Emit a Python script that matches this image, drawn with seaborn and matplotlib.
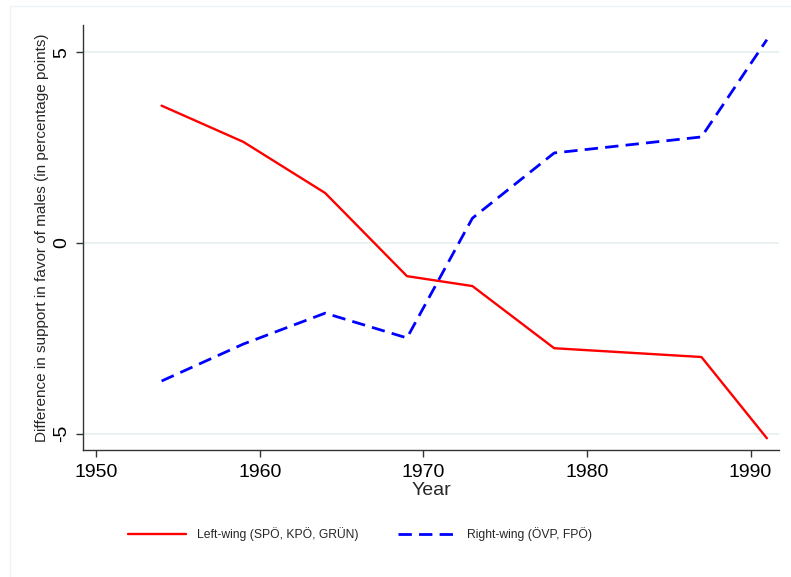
import numpy as np
import pandas as pd
import matplotlib
matplotlib.use('Agg')
import matplotlib.pyplot as plt
import seaborn as sns

# values
years = [1954, 1959, 1964, 1969, 1973, 1978, 1987, 1991]
left_wing = [3.60, 2.65, 1.31, -0.87, -1.13, -2.76, -2.99, -5.12]
right_wing = [-3.62, -2.65, -1.84, -2.49, 0.65, 2.36, 2.78, 5.33]
series_names = ['Left-wing (SPÖ, KPÖ, GRÜN)', 'Right-wing (ÖVP, FPÖ)']
x_ticks = [1950, 1960, 1970, 1980, 1990]
y_ticks = [-5, 0, 5]

df = pd.DataFrame({
    'Year': years * 2,
    'diff': left_wing + right_wing,
    'party': [series_names[0]] * len(years) + [series_names[1]] * len(years),
})

sns.set_style('white')
plt.rcParams['font.family'] = ['Liberation Sans', 'DejaVu Sans']

fig = plt.figure(figsize=(7.91, 5.77), dpi=100)
ax = fig.add_axes([0.105, 0.22, 0.88, 0.737])

# faint outer frame like the Stata graph region
fig.patches.append(plt.Rectangle((0.013, -0.01), 0.99, 1.0, transform=fig.transFigure,
                                 fill=False, edgecolor='#eef3f5', linewidth=1))

sns.lineplot(data=df, x='Year', y='diff', hue='party', style='party',
             palette={series_names[0]: '#ff0000', series_names[1]: '#0000ff'},
             dashes={series_names[0]: '', series_names[1]: (4.8, 2.6)},
             linewidth=1.7, ax=ax, legend=True)
# thicker dashed line, as in the original
ax.lines[1].set_linewidth(2.0)

ax.set_xlim(1949.2, 1991.75)
ax.set_ylim(-5.43, 5.72)
ax.set_xticks(x_ticks)
ax.set_yticks(y_ticks)
ax.set_yticklabels([str(v) for v in y_ticks], rotation=90, va='center')
for yv in y_ticks:
    ax.axhline(yv, color='#e8f0f2', linewidth=1.3, zorder=0)

for s in ['top', 'right']:
    ax.spines[s].set_visible(False)
for s in ['left', 'bottom']:
    ax.spines[s].set_color('#333333')
    ax.spines[s].set_linewidth(1.0)
ax.tick_params(axis='both', bottom=True, left=True, direction='out', length=5,
               width=1, color='#333333', labelsize=14, labelcolor='black', pad=4)
ax.tick_params(axis='x', pad=5)

ax.set_xlabel('Year', fontsize=14, labelpad=1)
ax.set_ylabel('Difference in support in favor of males (in percentage points)',
              fontsize=11, labelpad=3)

handles, labels = ax.get_legend_handles_labels()
handles[1].set_linewidth(2.0)
ax.legend(handles, labels, loc='center', bbox_to_anchor=(0.398, -0.198), ncol=2,
          frameon=False, fontsize=8.75, handlelength=4.8, handletextpad=0.85,
          columnspacing=3.3)

fig.savefig('out.png', dpi=100, facecolor='white')
